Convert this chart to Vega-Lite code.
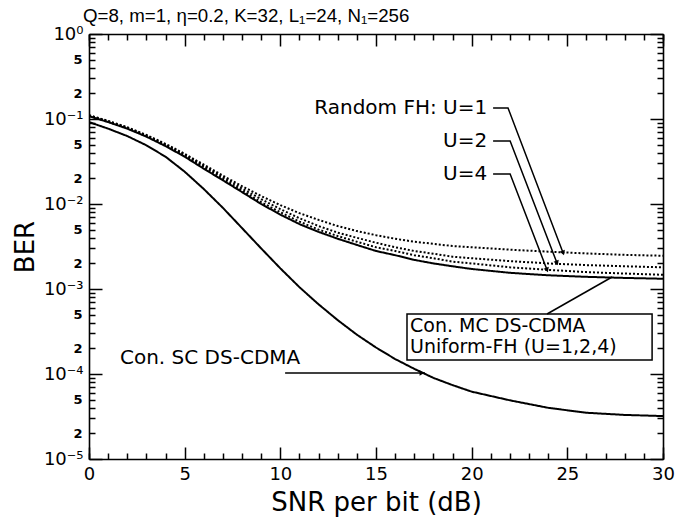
{
  "$schema": "https://vega.github.io/schema/vega-lite/v6.json",
  "autosize": "none",
  "width": 574,
  "height": 425,
  "padding": {"left": 89, "top": 34, "right": 33, "bottom": 60},
  "background": "white",
  "config": {"view": {"stroke": null}, "font": "DejaVu Sans", "axis": {"grid": false, "tickColor": "black", "domainColor": "black", "labelColor": "black", "titleColor": "black", "tickWidth": 1.5, "domainWidth": 1.6}},
  "title": {"text": "Q=8, m=1, η=0.2, K=32, L₁=24, N₁=256", "anchor": "start", "frame": "group", "dx": -6, "offset": -1, "fontSize": 18.7, "fontWeight": "normal", "font": "Liberation Sans", "color": "black"},
  "datasets": {
    "curves": [
      {"s":"SC","snr":0,"ber":0.092},{"s":"SC","snr":1,"ber":0.077},{"s":"SC","snr":2,"ber":0.063},{"s":"SC","snr":3,"ber":0.049},{"s":"SC","snr":4,"ber":0.036},{"s":"SC","snr":5,"ber":0.024},{"s":"SC","snr":6,"ber":0.015},{"s":"SC","snr":7,"ber":0.009},{"s":"SC","snr":8,"ber":0.0052},{"s":"SC","snr":9,"ber":0.003},{"s":"SC","snr":10,"ber":0.00175},{"s":"SC","snr":11,"ber":0.00105},{"s":"SC","snr":12,"ber":0.00066},{"s":"SC","snr":13,"ber":0.00043},{"s":"SC","snr":14,"ber":0.00029},{"s":"SC","snr":15,"ber":0.000205},{"s":"SC","snr":16,"ber":0.00015},{"s":"SC","snr":17,"ber":0.000115},{"s":"SC","snr":18,"ber":0.00009},{"s":"SC","snr":19,"ber":0.000074},{"s":"SC","snr":20,"ber":0.000062},{"s":"SC","snr":22,"ber":0.000049},{"s":"SC","snr":24,"ber":0.00004},{"s":"SC","snr":26,"ber":0.000035},{"s":"SC","snr":28,"ber":0.000033},{"s":"SC","snr":30,"ber":0.000032},
      {"s":"MC","snr":0,"ber":0.108},{"s":"MC","snr":1,"ber":0.092},{"s":"MC","snr":2,"ber":0.077},{"s":"MC","snr":3,"ber":0.062},{"s":"MC","snr":4,"ber":0.048},{"s":"MC","snr":5,"ber":0.036},{"s":"MC","snr":6,"ber":0.026},{"s":"MC","snr":7,"ber":0.019},{"s":"MC","snr":8,"ber":0.0138},{"s":"MC","snr":9,"ber":0.01},{"s":"MC","snr":10,"ber":0.0075},{"s":"MC","snr":11,"ber":0.0058},{"s":"MC","snr":12,"ber":0.0047},{"s":"MC","snr":13,"ber":0.0039},{"s":"MC","snr":14,"ber":0.0033},{"s":"MC","snr":15,"ber":0.0028},{"s":"MC","snr":16,"ber":0.0025},{"s":"MC","snr":17,"ber":0.0022},{"s":"MC","snr":18,"ber":0.002},{"s":"MC","snr":19,"ber":0.00185},{"s":"MC","snr":20,"ber":0.00172},{"s":"MC","snr":22,"ber":0.00155},{"s":"MC","snr":24,"ber":0.00145},{"s":"MC","snr":26,"ber":0.00139},{"s":"MC","snr":28,"ber":0.00135},{"s":"MC","snr":30,"ber":0.00132},
      {"s":"U4","snr":0,"ber":0.109},{"s":"U4","snr":1,"ber":0.093},{"s":"U4","snr":2,"ber":0.078},{"s":"U4","snr":3,"ber":0.063},{"s":"U4","snr":4,"ber":0.049},{"s":"U4","snr":5,"ber":0.037},{"s":"U4","snr":6,"ber":0.027},{"s":"U4","snr":7,"ber":0.0197},{"s":"U4","snr":8,"ber":0.0144},{"s":"U4","snr":9,"ber":0.0105},{"s":"U4","snr":10,"ber":0.008},{"s":"U4","snr":11,"ber":0.0062},{"s":"U4","snr":12,"ber":0.005},{"s":"U4","snr":13,"ber":0.0042},{"s":"U4","snr":14,"ber":0.0036},{"s":"U4","snr":15,"ber":0.0031},{"s":"U4","snr":16,"ber":0.0028},{"s":"U4","snr":17,"ber":0.0025},{"s":"U4","snr":18,"ber":0.0023},{"s":"U4","snr":19,"ber":0.0021},{"s":"U4","snr":20,"ber":0.002},{"s":"U4","snr":22,"ber":0.0018},{"s":"U4","snr":24,"ber":0.00168},{"s":"U4","snr":26,"ber":0.00158},{"s":"U4","snr":28,"ber":0.00152},{"s":"U4","snr":30,"ber":0.00147},
      {"s":"U2","snr":0,"ber":0.11},{"s":"U2","snr":1,"ber":0.094},{"s":"U2","snr":2,"ber":0.079},{"s":"U2","snr":3,"ber":0.064},{"s":"U2","snr":4,"ber":0.05},{"s":"U2","snr":5,"ber":0.038},{"s":"U2","snr":6,"ber":0.028},{"s":"U2","snr":7,"ber":0.0205},{"s":"U2","snr":8,"ber":0.0152},{"s":"U2","snr":9,"ber":0.0114},{"s":"U2","snr":10,"ber":0.0087},{"s":"U2","snr":11,"ber":0.0068},{"s":"U2","snr":12,"ber":0.0055},{"s":"U2","snr":13,"ber":0.0046},{"s":"U2","snr":14,"ber":0.004},{"s":"U2","snr":15,"ber":0.0035},{"s":"U2","snr":16,"ber":0.0031},{"s":"U2","snr":17,"ber":0.0028},{"s":"U2","snr":18,"ber":0.0026},{"s":"U2","snr":19,"ber":0.0024},{"s":"U2","snr":20,"ber":0.0023},{"s":"U2","snr":22,"ber":0.00213},{"s":"U2","snr":24,"ber":0.002},{"s":"U2","snr":26,"ber":0.00191},{"s":"U2","snr":28,"ber":0.00185},{"s":"U2","snr":30,"ber":0.0018},
      {"s":"U1","snr":0,"ber":0.111},{"s":"U1","snr":1,"ber":0.095},{"s":"U1","snr":2,"ber":0.08},{"s":"U1","snr":3,"ber":0.065},{"s":"U1","snr":4,"ber":0.051},{"s":"U1","snr":5,"ber":0.039},{"s":"U1","snr":6,"ber":0.029},{"s":"U1","snr":7,"ber":0.0215},{"s":"U1","snr":8,"ber":0.0162},{"s":"U1","snr":9,"ber":0.0124},{"s":"U1","snr":10,"ber":0.0097},{"s":"U1","snr":11,"ber":0.0078},{"s":"U1","snr":12,"ber":0.0065},{"s":"U1","snr":13,"ber":0.0055},{"s":"U1","snr":14,"ber":0.0048},{"s":"U1","snr":15,"ber":0.0043},{"s":"U1","snr":16,"ber":0.0039},{"s":"U1","snr":17,"ber":0.0036},{"s":"U1","snr":18,"ber":0.0034},{"s":"U1","snr":19,"ber":0.0032},{"s":"U1","snr":20,"ber":0.0031},{"s":"U1","snr":22,"ber":0.0029},{"s":"U1","snr":24,"ber":0.00275},{"s":"U1","snr":26,"ber":0.00262},{"s":"U1","snr":28,"ber":0.00252},{"s":"U1","snr":30,"ber":0.00246}
    ],
    "leaders": [
      {"id":"U1","k":1,"snr":21.12,"ber":0.1346},{"id":"U1","k":2,"snr":21.9,"ber":0.1346},{"id":"U1","k":3,"snr":24.78,"ber":0.00265},
      {"id":"U2","k":1,"snr":21.12,"ber":0.0551},{"id":"U2","k":2,"snr":22.01,"ber":0.0551},{"id":"U2","k":3,"snr":24.46,"ber":0.00202},
      {"id":"U4","k":1,"snr":21.12,"ber":0.02254},{"id":"U4","k":2,"snr":22.01,"ber":0.02254},{"id":"U4","k":3,"snr":23.94,"ber":0.001675},
      {"id":"MC","k":1,"snr":23.94,"ber":0.000508},{"id":"MC","k":2,"snr":27.34,"ber":0.001384},
      {"id":"SC","k":1,"snr":10.25,"ber":0.000103},{"id":"SC","k":2,"snr":17.56,"ber":0.000103}
    ],
    "textsRight": [
      {"t":"Random FH: U=1","snr":20.81,"ber":0.1346},
      {"t":"U=2","snr":20.81,"ber":0.0551},
      {"t":"U=4","snr":20.81,"ber":0.02254}
    ],
    "textsLeft": [
      {"t":"Con. SC DS-CDMA","snr":1.62,"ber":0.000154}
    ],
    "textsBox": [
      {"t":"Con. MC DS-CDMA","snr":16.78,"ber":0.000367},
      {"t":"Uniform-FH (U=1,2,4)","snr":16.78,"ber":0.000208}
    ],
    "box": [{"snr":16.62,"snr2":29.43,"ber":0.000508,"ber2":0.000146}],
    "arrowU": [{"snr":24.78,"ber":0.00265},{"snr":24.46,"ber":0.00202},{"snr":23.94,"ber":0.001675}],
    "arrowSC": [{"snr":17.4,"ber":0.000103}]
  },
  "layer": [
    {
      "data": {"name": "curves"},
      "mark": {"type": "line", "strokeWidth": 2, "color": "black", "clip": true},
      "encoding": {
        "x": {"field": "snr", "type": "quantitative", "scale": {"domain": [0, 30], "nice": false, "zero": false},
          "axis": {"orient": "bottom", "values": [0,5,10,15,20,25,30], "tickSize": -12, "labelPadding": 18, "labelFontSize": 18, "labelFlush": false, "title": "SNR per bit (dB)", "titleFontSize": 26, "titleFontWeight": "normal", "titlePadding": 6}},
        "y": {"field": "ber", "type": "quantitative", "scale": {"type": "log", "domain": [0.00001, 1], "nice": false},
          "axis": {"orient": "left", "values": [0.00001,0.0001,0.001,0.01,0.1,1], "tickSize": -13, "labelPadding": 19, "labelFontSize": 18, "labelExpr": "'10' + ['⁰','⁻¹','⁻²','⁻³','⁻⁴','⁻⁵'][round(-log(datum.value)/LN10)]", "title": "BER", "titleFontSize": 26, "titleFontWeight": "normal", "titlePadding": 5}},
        "strokeDash": {"field": "s", "type": "nominal", "scale": {"domain": ["SC","MC","U4","U2","U1"], "range": [[1,0],[1,0],[2,2],[2,2],[2,2]]}, "legend": null}
      }
    },
    {
      "data": {"name": "leaders"},
      "mark": {"type": "line", "strokeWidth": 1.5, "color": "black"},
      "encoding": {
        "x": {"field": "snr", "type": "quantitative", "scale": {"domain": [0, 30], "nice": false, "zero": false},
          "axis": {"orient": "bottom", "values": [0,1,2,3,4,6,7,8,9,11,12,13,14,16,17,18,19,21,22,23,24,26,27,28,29,30], "tickSize": -6, "labels": false, "domain": false, "title": null}},
        "y": {"field": "ber", "type": "quantitative", "scale": {"type": "log", "domain": [0.00001, 1], "nice": false},
          "axis": {"orient": "left", "values": [0.00002,0.00005,0.0002,0.0005,0.002,0.005,0.02,0.05,0.2,0.5], "tickSize": -6, "labelPadding": 13, "labelFontSize": 13, "labelFontWeight": "bold", "domain": false, "title": null, "labelExpr": "toString(round(datum.value / pow(10, floor(log(datum.value)/LN10 + 0.000001))))"}},
        "detail": {"field": "id"},
        "order": {"field": "k"}
      }
    },
    {
      "data": {"name": "textsRight"},
      "mark": {"type": "text", "align": "right", "baseline": "middle", "fontSize": 20, "font": "DejaVu Sans", "color": "black"},
      "encoding": {
        "x": {"field": "snr", "type": "quantitative", "scale": {"domain": [0, 30], "nice": false, "zero": false},
          "axis": {"orient": "top", "values": [0,5,10,15,20,25,30], "tickSize": -12, "labels": false, "title": null}},
        "y": {"field": "ber", "type": "quantitative", "scale": {"type": "log", "domain": [0.00001, 1], "nice": false},
          "axis": {"orient": "left", "values": [0.00003,0.00004,0.00006,0.00007,0.00008,0.00009,0.0003,0.0004,0.0006,0.0007,0.0008,0.0009,0.003,0.004,0.006,0.007,0.008,0.009,0.03,0.04,0.06,0.07,0.08,0.09,0.3,0.4,0.6,0.7,0.8,0.9], "tickSize": -6, "labels": false, "domain": false, "title": null}},
        "text": {"field": "t"}
      }
    },
    {
      "data": {"name": "textsLeft"},
      "mark": {"type": "text", "align": "left", "baseline": "middle", "fontSize": 20, "font": "DejaVu Sans", "color": "black"},
      "encoding": {
        "x": {"field": "snr", "type": "quantitative", "scale": {"domain": [0, 30], "nice": false, "zero": false},
          "axis": {"orient": "top", "values": [0,1,2,3,4,6,7,8,9,11,12,13,14,16,17,18,19,21,22,23,24,26,27,28,29,30], "tickSize": -6, "labels": false, "domain": false, "title": null}},
        "y": {"field": "ber", "type": "quantitative", "scale": {"type": "log", "domain": [0.00001, 1], "nice": false},
          "axis": {"orient": "right", "values": [0.00001,0.0001,0.001,0.01,0.1,1], "tickSize": -13, "labels": false, "title": null}},
        "text": {"field": "t"}
      }
    },
    {
      "data": {"name": "textsBox"},
      "mark": {"type": "text", "align": "left", "baseline": "middle", "fontSize": 19, "font": "DejaVu Sans", "color": "black"},
      "encoding": {
        "x": {"field": "snr", "type": "quantitative", "scale": {"domain": [0, 30], "nice": false, "zero": false}, "axis": null},
        "y": {"field": "ber", "type": "quantitative", "scale": {"type": "log", "domain": [0.00001, 1], "nice": false}, "axis": null},
        "text": {"field": "t"}
      }
    },
    {
      "data": {"name": "box"},
      "mark": {"type": "rect", "fill": null, "fillOpacity": 0, "stroke": "black", "strokeWidth": 1.5},
      "encoding": {
        "x": {"field": "snr", "type": "quantitative", "scale": {"domain": [0, 30], "nice": false, "zero": false}, "axis": null},
        "x2": {"field": "snr2"},
        "y": {"field": "ber", "type": "quantitative", "scale": {"type": "log", "domain": [0.00001, 1], "nice": false},
          "axis": {"orient": "right", "values": [0.00002,0.00003,0.00004,0.00005,0.00006,0.00007,0.00008,0.00009,0.0002,0.0003,0.0004,0.0005,0.0006,0.0007,0.0008,0.0009,0.002,0.003,0.004,0.005,0.006,0.007,0.008,0.009,0.02,0.03,0.04,0.05,0.06,0.07,0.08,0.09,0.2,0.3,0.4,0.5,0.6,0.7,0.8,0.9], "tickSize": -6, "labels": false, "domain": false, "title": null}},
        "y2": {"field": "ber2"}
      }
    },
    {
      "data": {"name": "arrowU"},
      "mark": {"type": "point", "shape": "triangle-down", "angle": 339, "filled": true, "color": "black", "size": 30, "opacity": 1},
      "encoding": {
        "x": {"field": "snr", "type": "quantitative", "scale": {"domain": [0, 30], "nice": false, "zero": false}, "axis": null},
        "y": {"field": "ber", "type": "quantitative", "scale": {"type": "log", "domain": [0.00001, 1], "nice": false}, "axis": null}
      }
    },
    {
      "data": {"name": "arrowSC"},
      "mark": {"type": "point", "shape": "triangle-right", "filled": true, "color": "black", "size": 30, "opacity": 1},
      "encoding": {
        "x": {"field": "snr", "type": "quantitative", "scale": {"domain": [0, 30], "nice": false, "zero": false}, "axis": null},
        "y": {"field": "ber", "type": "quantitative", "scale": {"type": "log", "domain": [0.00001, 1], "nice": false}, "axis": null}
      }
    }
  ],
  "resolve": {"axis": {"x": "independent", "y": "independent"}}
}
